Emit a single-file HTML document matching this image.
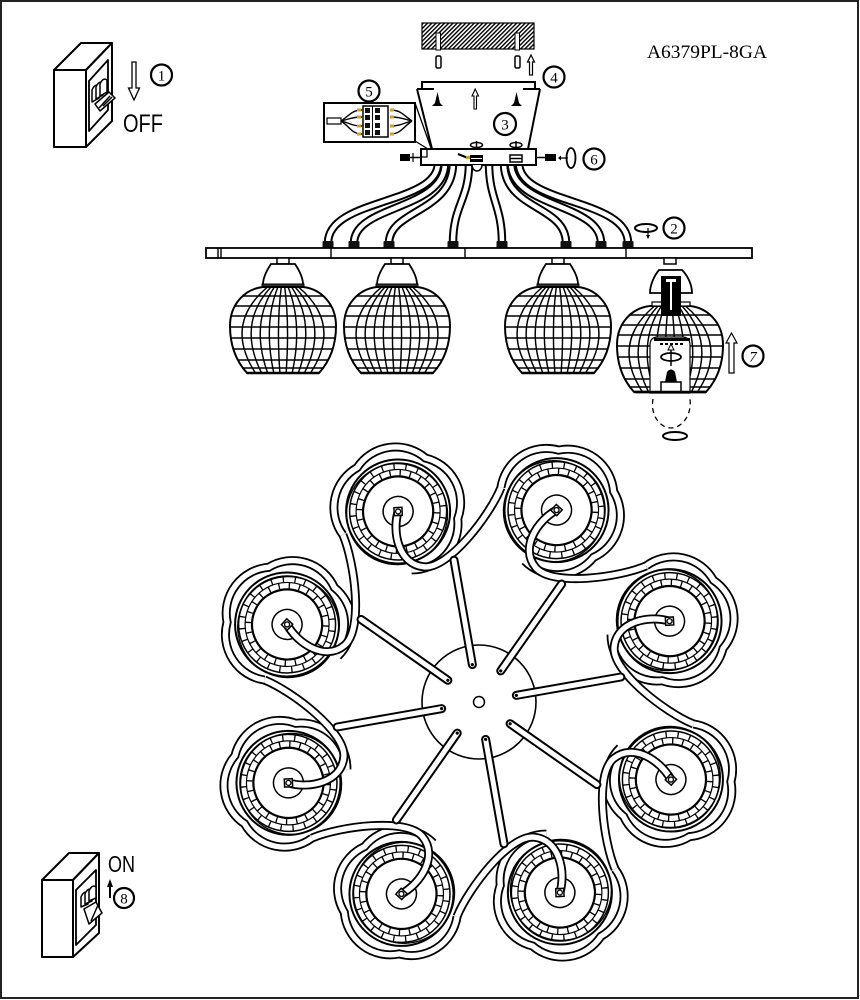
<!DOCTYPE html>
<html><head><meta charset="utf-8">
<style>
html,body{margin:0;padding:0;background:#fff;}
svg{display:block;}
</style></head><body>
<svg width="860" height="1000" viewBox="0 0 860 1000" xmlns="http://www.w3.org/2000/svg">
<defs>
 <pattern id="hatch" width="3" height="3" patternUnits="userSpaceOnUse" patternTransform="rotate(45)">
   <rect width="3" height="3" fill="#fff"/>
   <line x1="0.7" y1="0" x2="0.7" y2="3" stroke="#000" stroke-width="1.4"/>
 </pattern>
 <clipPath id="gclip"><path d="M -20,287 C -38,289 -53,304 -53,326 C -53,347 -46,362 -36,373 L 36,373 C 46,362 53,347 53,326 C 53,304 38,289 20,287 Z"/></clipPath>
 <g id="gside">
  <path d="M -20,287 C -38,289 -53,304 -53,326 C -53,347 -46,362 -36,373 L 36,373 C 46,362 53,347 53,326 C 53,304 38,289 20,287 Z" fill="#fff"/>
  <g clip-path="url(#gclip)" stroke="#000" stroke-width="1.45" fill="none">
   <path d="M-60,296H60M-60,306H60M-60,316H60M-60,327H60M-60,338H60M-60,349H60M-60,360H60M-60,368H60"/>
   <path d="M1.7,287Q6.6,324 3.1,373M-1.7,287Q-6.6,324 -3.1,373M5.1,287Q19.9,324 9.2,373M-5.1,287Q-19.9,324 -9.2,373M8.6,287Q33.1,324 15.3,373M-8.6,287Q-33.1,324 -15.3,373M12,287Q46.3,324 21.4,373M-12,287Q-46.3,324 -21.4,373M15.4,287Q59.5,324 27.5,373M-15.4,287Q-59.5,324 -27.5,373"/>
  </g>
  <path d="M -20,287 C -38,289 -53,304 -53,326 C -53,347 -46,362 -36,373 L 36,373 C 46,362 53,347 53,326 C 53,304 38,289 20,287 Z" fill="none" stroke="#000" stroke-width="2"/>
  <path d="M -36,373 L 36,373" stroke="#000" stroke-width="2.6"/>
 </g>
 <g id="cone">
  <rect x="-6" y="258" width="12" height="6" fill="#fff" stroke="#000" stroke-width="1.5"/>
  <path d="M -12,264 L 12,264 C 16,270 20,278 20,284.5 L -20,284.5 C -20,278 -16,270 -12,264 Z" fill="#fff" stroke="#000" stroke-width="1.8"/>
  <rect x="-21" y="284" width="42" height="3.5" fill="#333" stroke="#000" stroke-width="1"/>
 </g>
 <g id="unit">
  <g transform="translate(0,-207)">
   <circle r="52" fill="#fff" stroke="#000" stroke-width="2"/>
   <circle cx="-2" cy="2" r="50.5" fill="none" stroke="#000" stroke-width="1.3"/>
   <circle r="48.5" fill="none" stroke="#000" stroke-width="1.5"/>
   <circle r="42" fill="none" stroke="#000" stroke-width="1.2"/>
   <circle r="45.2" fill="none" stroke="#000" stroke-width="6.5" stroke-dasharray="1.3 10.6"/>
   <circle r="38.5" fill="none" stroke="#000" stroke-width="6.6" stroke-dasharray="1.3 8.8" stroke-dashoffset="4"/>
   <circle r="35" fill="none" stroke="#000" stroke-width="2.2"/>
   <circle r="15" fill="none" stroke="#000" stroke-width="1.5"/>
  </g>
  <path d="M -60,-207 A 46 46 0 0 1 -20.5,-263.4 A 46 46 0 0 1 46,-245.6 A 46 46 0 0 1 52,-177 A 46 46 0 0 1 -10.4,-147.9" fill="none" stroke="#000" stroke-width="9"/>
  <path d="M -60,-207 A 46 46 0 0 1 -20.5,-263.4 A 46 46 0 0 1 46,-245.6 A 46 46 0 0 1 52,-177 A 46 46 0 0 1 -10.4,-147.9" fill="none" stroke="#fff" stroke-width="5.4"/>
  <path d="M 0,-207 C -14,-190 -20,-158 2,-146 C 24,-134 83,-167.8 104,-188.8" fill="none" stroke="#000" stroke-width="9"/>
  <path d="M 0,-207 C -14,-190 -20,-158 2,-146 C 24,-134 83,-167.8 104,-188.8" fill="none" stroke="#fff" stroke-width="5.4"/>
  <line x1="8.5" y1="-37" x2="32.4" y2="-140.3" stroke="#000" stroke-width="9" stroke-linecap="round"/>
  <line x1="8.5" y1="-37" x2="32.4" y2="-140.3" stroke="#fff" stroke-width="5" stroke-linecap="round"/>
  <circle cx="8.5" cy="-37" r="1.6" fill="#000"/>
  <rect x="-4" y="-211" width="8" height="8" fill="#fff" stroke="#000" stroke-width="1.5" transform="rotate(20 0 -207)"/>
  <circle cx="0" cy="-207" r="2.5" fill="#fff" stroke="#000" stroke-width="1.3"/>
 </g>
</defs>

<rect x="1" y="1" width="857" height="997" fill="none" stroke="#222" stroke-width="2"/>

<!-- Model -->
<text x="647" y="58" font-family="Liberation Serif, serif" font-size="19" textLength="120" lengthAdjust="spacingAndGlyphs">A6379PL-8GA</text>

<!-- OFF switch -->
<g stroke="#000" stroke-width="2" fill="#fff" stroke-linejoin="round">
 <polygon points="54,70 81,43 112,43 86,70"/>
 <polygon points="86,70 112,43 112,121 86,147"/>
 <rect x="54" y="70" width="32" height="77"/>
 <polygon points="89,81 108,60 108,110 89,131" stroke-width="1.8"/>
</g>
<g stroke="#000" stroke-width="1.5" fill="#fff" stroke-linejoin="round">
 <path d="M92,102 L92,90 Q95,83 99,86 L99,98 Z"/>
 <path d="M96,99 L96,87 Q99,80 103,83 L103,95 Z"/>
 <path d="M100,96 L100,84 Q103,77 107,80 L107,92 Z"/>
 <path d="M95,104 L100,111 L115,98 L109,92 Z"/>
 <path d="M99,108 L110,96"/>
 <path d="M103,106 L112,97"/>
</g>
<polygon points="132,62 136,62 136,88 139.5,88 134,100 128.5,88 132,88" fill="#fff" stroke="#000" stroke-width="1.3"/>
<text x="123" y="132" font-family="Liberation Sans, sans-serif" font-size="25" textLength="40" lengthAdjust="spacingAndGlyphs">OFF</text>
<circle cx="161.5" cy="75" r="10.5" fill="#fff" stroke="#000" stroke-width="2.2"/>
<text x="161.5" y="80.5" font-family="Liberation Serif, serif" font-size="15" text-anchor="middle">1</text>

<!-- ON switch -->
<g stroke="#000" stroke-width="2" fill="#fff" stroke-linejoin="round">
 <polygon points="42,880 69,853 99,853 73,880"/>
 <polygon points="73,880 99,853 99,933 73,957"/>
 <rect x="42" y="880" width="31" height="77"/>
 <polygon points="76,890 96,870 96,925 76,945" stroke-width="1.8"/>
</g>
<g stroke="#000" stroke-width="1.5" fill="#fff" stroke-linejoin="round">
 <path d="M81,907 L81,897 Q84,890 88,893 L88,904 Z"/>
 <path d="M85,904 L85,894 Q88,887 92,890 L92,901 Z"/>
 <path d="M89,901 L89,891 Q92,884 96,887 L96,898 Z"/>
 <path d="M84,909 L89,924 L102,913 L96,902 Z"/>
 <path d="M91,921 L98,905"/>
</g>
<line x1="110" y1="898" x2="110" y2="884" stroke="#000" stroke-width="2"/>
<polygon points="107,887 110,879 113,887" fill="#000"/>
<text x="108" y="872" font-family="Liberation Sans, sans-serif" font-size="23" textLength="27" lengthAdjust="spacingAndGlyphs">ON</text>
<circle cx="124" cy="898" r="10" fill="#fff" stroke="#000" stroke-width="2.2"/>
<text x="124" y="903.5" font-family="Liberation Serif, serif" font-size="15" text-anchor="middle">8</text>

<!-- Ceiling -->
<rect x="422" y="23" width="112" height="26" fill="url(#hatch)" stroke="#000" stroke-width="1.2"/>
<rect x="436" y="33" width="4.5" height="17" fill="#fff" stroke="#000" stroke-width="1"/>
<rect x="515" y="33" width="4.5" height="17" fill="#fff" stroke="#000" stroke-width="1"/>
<rect x="436" y="56" width="5" height="12" rx="1.5" fill="#fff" stroke="#000" stroke-width="1.5"/>
<rect x="515" y="56" width="5" height="12" rx="1.5" fill="#fff" stroke="#000" stroke-width="1.5"/>
<polygon points="529.5,75 532.5,75 532.5,62 534.5,62 531,55 527.5,62 529.5,62" fill="#fff" stroke="#000" stroke-width="1.2"/>
<circle cx="554" cy="77" r="10.5" fill="#fff" stroke="#000" stroke-width="2.2"/>
<text x="554" y="82.5" font-family="Liberation Serif, serif" font-size="15" text-anchor="middle">4</text>

<!-- Canopy -->
<g stroke="#000" stroke-width="2" fill="none">
 <path d="M 422,89 V 82 H 535 V 89"/>
 <path d="M 417,89 H 434 M 523,89 H 540"/>
 <path d="M 417,89 L 432,149 M 540,89 L 528,149"/>
</g>
<path d="M437.5,92 L435,103 L432,106 L443,106 L440,103 Z" fill="#000"/>
<path d="M516.5,92 L514,103 L511,106 L522,106 L519,103 Z" fill="#000"/>
<polygon points="474,109 476.5,109 476.5,96 478.5,96 475.2,89 472,96 474,96" fill="#fff" stroke="#000" stroke-width="1.1"/>
<circle cx="505" cy="124" r="11" fill="#fff" stroke="#000" stroke-width="2.2"/>
<text x="505" y="129.5" font-family="Liberation Serif, serif" font-size="15" text-anchor="middle">3</text>

<!-- Wires side view -->
<g fill="none" stroke="#000" stroke-width="8.5">
 <path d="M 438,163 C 438,205 328,198 328,243"/>
 <path d="M 445,163 C 445,210 354,205 354,243"/>
 <path d="M 453,163 C 453,212 389,210 389,243"/>
 <path d="M 469,163 C 469,200 453,205 453,243"/>
 <path d="M 489,163 C 489,200 502,205 502,243"/>
 <path d="M 504,163 C 504,210 566,205 566,243"/>
 <path d="M 511,163 C 511,208 601,203 601,243"/>
 <path d="M 519,163 C 519,205 628,198 628,243"/>
</g>
<g fill="none" stroke="#fff" stroke-width="4.5">
 <path d="M 438,163 C 438,205 328,198 328,243"/>
 <path d="M 445,163 C 445,210 354,205 354,243"/>
 <path d="M 453,163 C 453,212 389,210 389,243"/>
 <path d="M 469,163 C 469,200 453,205 453,243"/>
 <path d="M 489,163 C 489,200 502,205 502,243"/>
 <path d="M 504,163 C 504,210 566,205 566,243"/>
 <path d="M 511,163 C 511,208 601,203 601,243"/>
 <path d="M 519,163 C 519,205 628,198 628,243"/>
</g>
<g fill="#111">
 <rect x="322.5" y="241" width="11" height="7" rx="1"/>
 <rect x="348.5" y="241" width="11" height="7" rx="1"/>
 <rect x="383.5" y="241" width="11" height="7" rx="1"/>
 <rect x="447.5" y="241" width="11" height="7" rx="1"/>
 <rect x="496.5" y="241" width="11" height="7" rx="1"/>
 <rect x="560.5" y="241" width="11" height="7" rx="1"/>
 <rect x="595.5" y="241" width="11" height="7" rx="1"/>
 <rect x="622.5" y="241" width="11" height="7" rx="1"/>
</g>

<!-- Plate -->
<rect x="421" y="149" width="115" height="16" fill="#fff" stroke="#000" stroke-width="2"/>
<path d="M 427,149 V 157 H 421" fill="none" stroke="#000" stroke-width="1.3"/>
<path d="M 458,154 L 468,158" stroke="#000" stroke-width="2.2"/>
<rect x="466" y="156" width="4" height="3" fill="#c9a227"/>
<rect x="470" y="155" width="13" height="7" fill="#000"/>
<line x1="471" y1="158.5" x2="482" y2="158.5" stroke="#fff" stroke-width="1"/>
<rect x="510" y="155" width="12" height="7" fill="#fff" stroke="#000" stroke-width="1.5"/>
<line x1="510" y1="158.5" x2="522" y2="158.5" stroke="#000" stroke-width="1.5"/>
<ellipse cx="476.5" cy="145" rx="6" ry="2.5" fill="#fff" stroke="#000" stroke-width="1.5"/>
<line x1="476.5" y1="141" x2="476.5" y2="149" stroke="#000" stroke-width="1.5"/>
<ellipse cx="516" cy="145" rx="6" ry="2.5" fill="#fff" stroke="#000" stroke-width="1.5"/>
<line x1="516" y1="141" x2="516" y2="149" stroke="#000" stroke-width="1.5"/>
<path d="M 472,165 A 5 6 0 0 0 482,165" fill="#fff" stroke="#000" stroke-width="1.5"/>
<!-- side screws -->
<rect x="400" y="154" width="10" height="7" fill="#000"/>
<line x1="410" y1="157.5" x2="421" y2="157.5" stroke="#000" stroke-width="1.5"/>
<line x1="413" y1="153" x2="413" y2="162" stroke="#000" stroke-width="1.2"/>
<line x1="536" y1="157.5" x2="546" y2="157.5" stroke="#000" stroke-width="1.5"/>
<rect x="545" y="154" width="11" height="7" fill="#000"/>
<ellipse cx="571" cy="158" rx="4.5" ry="10" fill="none" stroke="#000" stroke-width="1.8"/>
<line x1="559" y1="158" x2="568" y2="158" stroke="#000" stroke-width="1.3"/>
<polygon points="561,155.5 558,158 561,160.5" fill="#000"/>
<circle cx="594" cy="159" r="10.5" fill="#fff" stroke="#000" stroke-width="2.2"/>
<text x="594" y="164.5" font-family="Liberation Serif, serif" font-size="15" text-anchor="middle">6</text>

<!-- Box 5 -->
<rect x="324" y="103" width="91" height="39" fill="#fff" stroke="#000" stroke-width="2"/>
<line x1="415" y1="103" x2="431" y2="148" stroke="#000" stroke-width="1.3"/>
<line x1="415" y1="141" x2="428" y2="149" stroke="#000" stroke-width="1.3"/>
<rect x="327" y="118" width="14" height="6" fill="#fff" stroke="#000" stroke-width="1.2"/>
<g fill="none" stroke="#000" stroke-width="1.4">
 <path d="M341,121 C350,115 352,110 362,110"/>
 <path d="M341,121 C350,119 352,117 362,117"/>
 <path d="M341,121 C350,123 352,126 362,126"/>
 <path d="M341,121 C350,127 352,134 362,134"/>
 <path d="M412,121 C403,115 401,110 390,110"/>
 <path d="M412,121 C403,119 401,117 390,117"/>
 <path d="M412,121 C403,123 401,126 390,126"/>
 <path d="M412,121 C403,127 401,134 390,134"/>
</g>
<g fill="#c9a227">
 <rect x="357" y="108.5" width="4" height="3"/><rect x="357" y="115.5" width="4" height="3"/><rect x="357" y="124.5" width="4" height="3"/><rect x="357" y="132.5" width="4" height="3"/>
 <rect x="390" y="108.5" width="4" height="3"/><rect x="390" y="115.5" width="4" height="3"/><rect x="390" y="124.5" width="4" height="3"/><rect x="390" y="132.5" width="4" height="3"/>
</g>
<rect x="363" y="106" width="25" height="31" fill="#fff" stroke="#000" stroke-width="1.5"/>
<g fill="#111">
 <rect x="365" y="108" width="5" height="5"/><rect x="375" y="108" width="5" height="5"/>
 <rect x="365" y="115" width="5" height="5"/><rect x="375" y="115" width="5" height="5"/>
 <rect x="365" y="123" width="5" height="5"/><rect x="375" y="123" width="5" height="5"/>
 <rect x="365" y="130" width="5" height="5"/><rect x="375" y="130" width="5" height="5"/>
</g>
<line x1="372.5" y1="106" x2="372.5" y2="137" stroke="#000" stroke-width="1"/>
<circle cx="369" cy="91" r="10.5" fill="#fff" stroke="#000" stroke-width="2.2"/>
<text x="369" y="96.5" font-family="Liberation Serif, serif" font-size="15" text-anchor="middle">5</text>

<!-- Rotation 2 -->
<ellipse cx="646" cy="228" rx="11" ry="4" fill="none" stroke="#000" stroke-width="2"/>
<line x1="648" y1="228" x2="648" y2="238" stroke="#000" stroke-width="1.2"/>
<polygon points="646,235 648,239 650,235" fill="#000"/>
<circle cx="674" cy="228" r="10.5" fill="#fff" stroke="#000" stroke-width="2.2"/>
<text x="674" y="233.5" font-family="Liberation Serif, serif" font-size="15" text-anchor="middle">2</text>

<!-- Bar -->
<rect x="206" y="248" width="546" height="10" fill="#fff" stroke="#000" stroke-width="1.8"/>
<g stroke="#000" stroke-width="1.4">
 <line x1="218" y1="248" x2="218" y2="258"/>
 <line x1="221" y1="248" x2="221" y2="258"/>
 <line x1="331" y1="248" x2="331" y2="258"/>
 <line x1="465" y1="248" x2="465" y2="258"/>
 <line x1="626" y1="248" x2="626" y2="258"/>
</g>

<!-- Side globes -->
<use href="#cone" transform="translate(283,0)"/>
<use href="#gside" transform="translate(283,0)"/>
<use href="#cone" transform="translate(397,0)"/>
<use href="#gside" transform="translate(397,0)"/>
<use href="#cone" transform="translate(558,0)"/>
<use href="#gside" transform="translate(558,0)"/>

<!-- Globe 4 exploded -->
<use href="#gside" transform="translate(670,19)"/>
<rect x="664" y="258" width="12" height="6" fill="#fff" stroke="#000" stroke-width="1.5"/>
<path d="M 659,270 L 682,270 C 688,276 692,285 692,293 L 650,293 C 650,285 654,276 659,270 Z" fill="#fff" stroke="#000" stroke-width="1.8"/>
<rect x="652" y="302" width="38" height="4" fill="#fff" stroke="#000" stroke-width="1.2"/>
<rect x="661" y="276" width="20" height="40" fill="#000"/>
<rect x="666" y="279" width="10" height="3" fill="#fff"/>
<rect x="670" y="282" width="2" height="28" fill="#fff"/>
<path d="M 650,393 L 650,345 Q 650,337 658,337 L 682,337 Q 690,337 690,345 L 690,393 Z" fill="#fff" stroke="#000" stroke-width="1.2"/>
<rect x="654" y="338" width="36" height="3" fill="#000"/>
<line x1="660" y1="344" x2="685" y2="344" stroke="#000" stroke-width="2" stroke-dasharray="3 2"/>
<ellipse cx="671" cy="357" rx="10" ry="4" fill="none" stroke="#000" stroke-width="1.8"/>
<line x1="671" y1="366" x2="671" y2="348" stroke="#000" stroke-width="1.5"/>
<polygon points="668,350 671,344 674,350" fill="#fff" stroke="#000" stroke-width="1"/>
<path d="M 665,382 L 667,372 Q 671,367 675,372 L 677,382 Z" fill="#000"/>
<rect x="661" y="382" width="20" height="10" fill="#fff" stroke="#000" stroke-width="1.5"/>
<path d="M 636,392 L 706,392" stroke="#000" stroke-width="2.6"/>
<path d="M 653,399 C 650,415 660,428 671,428 C 682,428 692,415 690,399" fill="none" stroke="#000" stroke-width="1.3" stroke-dasharray="5 4"/>
<ellipse cx="675" cy="436" rx="12" ry="4" fill="none" stroke="#000" stroke-width="2"/>
<polygon points="729,373 734,373 734,343 737,343 731.5,333 726,343 729,343" fill="#fff" stroke="#000" stroke-width="1.2"/>
<circle cx="753" cy="356" r="10.5" fill="#fff" stroke="#000" stroke-width="2.2"/>
<text x="753" y="361.5" font-family="Liberation Serif, serif" font-size="15" text-anchor="middle" font-style="italic">7</text>

<!-- Top view -->
<circle cx="479" cy="702" r="57" fill="#fff" stroke="#000" stroke-width="1.6"/>
<circle cx="479" cy="702" r="5.5" fill="#fff" stroke="#000" stroke-width="1.5"/>
<use href="#unit" transform="translate(479,702) rotate(-23)"/>
<use href="#unit" transform="translate(479,702) rotate(22)"/>
<use href="#unit" transform="translate(479,702) rotate(67)"/>
<use href="#unit" transform="translate(479,702) rotate(112)"/>
<use href="#unit" transform="translate(479,702) rotate(157)"/>
<use href="#unit" transform="translate(479,702) rotate(202)"/>
<use href="#unit" transform="translate(479,702) rotate(247)"/>
<use href="#unit" transform="translate(479,702) rotate(292)"/>
</svg>
</body></html>
